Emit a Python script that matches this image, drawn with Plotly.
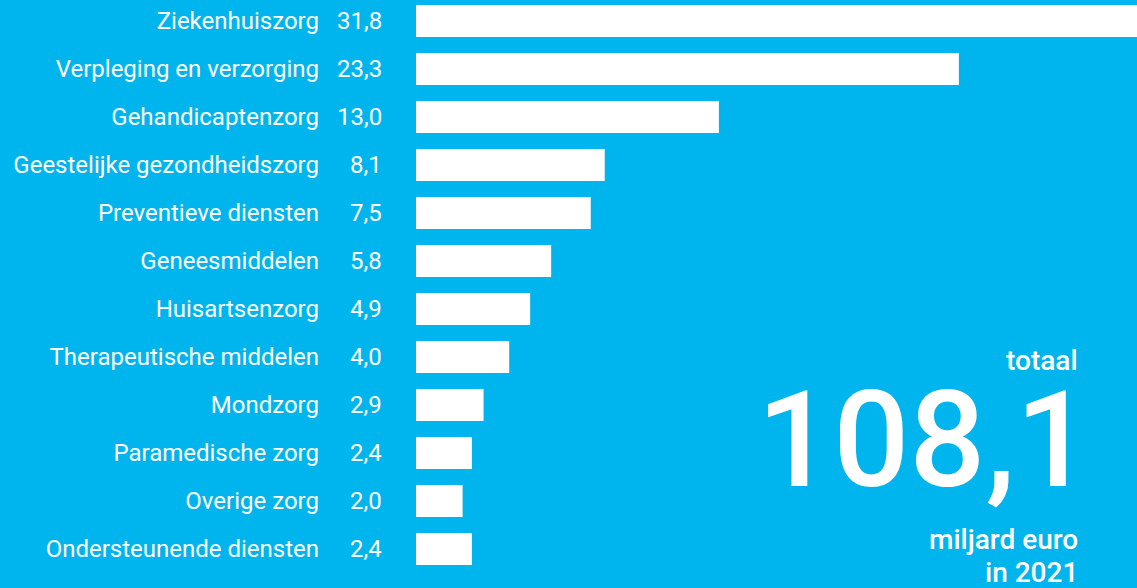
import plotly.graph_objects as go

# ── data ─────────────────────────────────────────────
categories = [
    "Ziekenhuiszorg",
    "Verpleging en verzorging",
    "Gehandicaptenzorg",
    "Geestelijke gezondheidszorg",
    "Preventieve diensten",
    "Geneesmiddelen",
    "Huisartsenzorg",
    "Therapeutische middelen",
    "Mondzorg",
    "Paramedische zorg",
    "Overige zorg",
    "Ondersteunende diensten",
]
values = [31.8, 23.3, 13.0, 8.1, 7.5, 5.8, 4.9, 4.0, 2.9, 2.4, 2.0, 2.4]
total_label = "108,1"

BG = "#00B5ED"
FONT = "Roboto"

W, H = 1137, 588
PLOT_LEFT = 416
PX_PER_UNIT = 23.3
ROW = 48.0
FIRST_ROW = 21.0


def px_x(p):
    # pixel column -> paper x
    return (p - PLOT_LEFT) / (W - PLOT_LEFT)


fig = go.Figure(go.Bar(
    x=values, y=categories, orientation="h",
    marker=dict(color="white", line=dict(width=0)),
    width=32 / ROW, hoverinfo="skip",
))

# value labels left of the bars
for c, v in zip(categories, values):
    fig.add_annotation(
        x=px_x(384), xref="paper", xanchor="right",
        y=c, yref="y", yanchor="middle",
        text=f"{v:.1f}".replace(".", ","), showarrow=False,
        font=dict(family=FONT, size=24, color="white"),
    )

# total block: text, size, centre y (px), right edge (px)
big = [
    ("totaal", 28, 360, 1080),
    (total_label, 134, 440, 1094),
    ("miljard euro", 28, 539, 1080),
    ("in 2021", 28, 572, 1080),
]
for txt, size, yc, xr in big:
    fig.add_annotation(
        x=px_x(xr), xref="paper", xanchor="right",
        y=1 - yc / H, yref="paper", yanchor="middle",
        text=txt, showarrow=False,
        font=dict(family=FONT, size=size, color="white", weight=500),
    )

fig.update_xaxes(range=[0, (W - PLOT_LEFT) / PX_PER_UNIT], visible=False, fixedrange=True)
fig.update_yaxes(
    range=[(H - FIRST_ROW) / ROW, -FIRST_ROW / ROW],
    showgrid=False, zeroline=False, showline=False, ticks="",
    ticklabelstandoff=96,
    tickfont=dict(family=FONT, size=24, color="white"),
)
fig.update_layout(
    width=W, height=H,
    margin=dict(l=PLOT_LEFT, r=0, t=0, b=0),
    paper_bgcolor=BG, plot_bgcolor=BG,
    showlegend=False,
)

fig.write_html(
    "out.html",
    config={"displayModeBar": False},
    post_script="document.body.style.margin='0';"
                "document.body.style.overflow='hidden';"
                f"document.body.style.background='{BG}';",
)
